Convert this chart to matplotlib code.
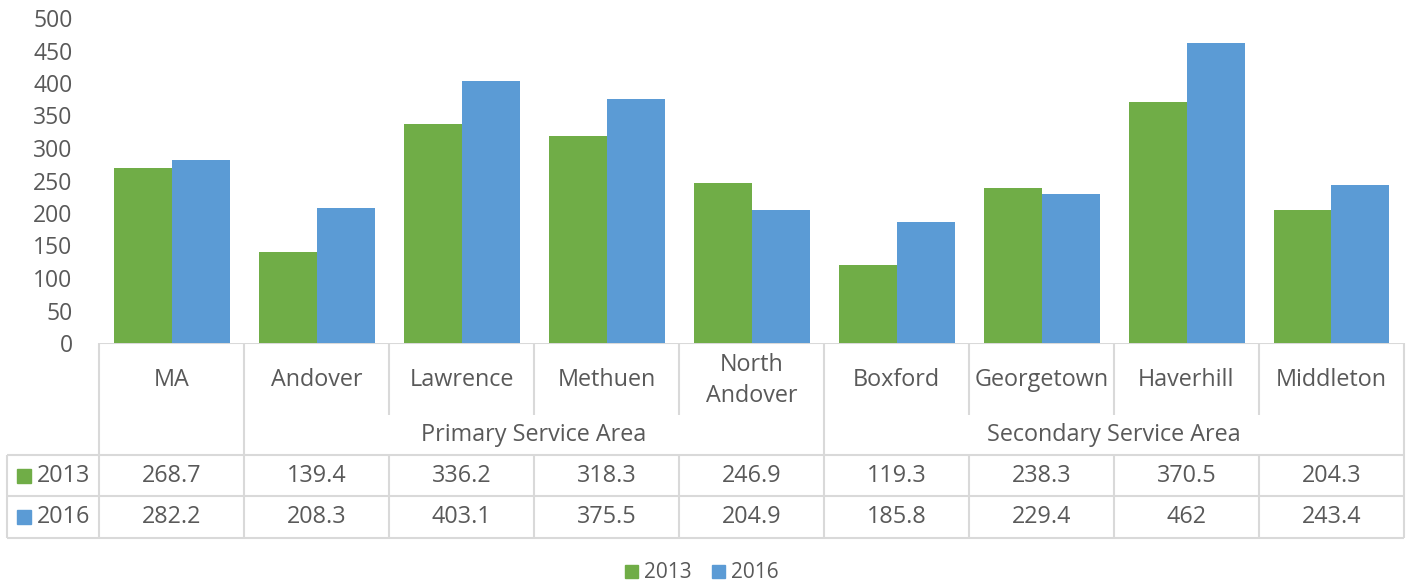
import matplotlib
matplotlib.use('Agg')
import matplotlib.pyplot as plt
from matplotlib.patches import Patch
import numpy as np

plt.rcParams['font.family'] = ['Open Sans', 'DejaVu Sans']

# data
categories = ['MA', 'Andover', 'Lawrence', 'Methuen', 'North\nAndover',
              'Boxford', 'Georgetown', 'Haverhill', 'Middleton']
group_labels = ['', 'Primary Service Area', 'Secondary Service Area']
group_first = [0, 1, 5]
group_last = [0, 4, 8]
series_names = ['2013', '2016']
values_2013 = [268.7, 139.4, 336.2, 318.3, 246.9, 119.3, 238.3, 370.5, 204.3]
values_2016 = [282.2, 208.3, 403.1, 375.5, 204.9, 185.8, 229.4, 462, 243.4]
y_ticks = [0, 50, 100, 150, 200, 250, 300, 350, 400, 450, 500]

colors = ['#70AD47', '#5B9BD5']
text_color = '#595959'
line_color = '#D9D9D9'

W, H = 1408, 584
fig = plt.figure(figsize=(W / 100, H / 100), dpi=100)

# chart area (pixel layout)
left, right, top, bottom = 99, 1404, 18, 343
ax = fig.add_axes([left / W, 1 - bottom / H, (right - left) / W, (bottom - top) / H])
x = np.arange(len(categories))
ax.bar(x - 0.2, values_2013, width=0.4, color=colors[0])
ax.bar(x + 0.2, values_2016, width=0.4, color=colors[1])
ax.set_xlim(-0.5, len(categories) - 0.5)
ax.set_ylim(0, 500)
ax.set_yticks(y_ticks)
ax.set_xticks([])
ax.tick_params(axis='y', length=0, pad=19, labelsize=16.5, labelcolor=text_color)
for s in ax.spines.values():
    s.set_visible(False)

# data table drawn in pixel coordinates
tab = fig.add_axes([0, 0, 1, 1], zorder=-1)
tab.set_xlim(0, W)
tab.set_ylim(H, 0)
tab.axis('off')

col_w = (right - left) / len(categories)
edges = [left + col_w * i for i in range(len(categories) + 1)]
centers = [left + col_w * (i + 0.5) for i in range(len(categories))]
row_cat = (343, 415)
row_grp = (415, 455)
row_a = (455, 496)
row_b = (496, 538)
table_left = 7
lw = 1.5

def hline(y, x0, x1):
    tab.plot([x0, x1], [y, y], color=line_color, lw=lw, solid_capstyle='butt')

def vline(xp, y0, y1):
    tab.plot([xp, xp], [y0, y1], color=line_color, lw=lw, solid_capstyle='butt')

hline(row_cat[0], left, right)
for e in edges:
    vline(e, row_cat[0], row_cat[1])
group_edges = [edges[0]] + [edges[g + 1] for g in group_last]
for e in group_edges:
    vline(e, row_grp[0], row_grp[1])
for y in (row_a[0], row_b[0], row_b[1]):
    hline(y, table_left, right)
vline(table_left, row_a[0], row_b[1])
for e in edges:
    vline(e, row_a[0], row_b[1])

fs = 16.8
for cx, c in zip(centers, categories):
    tab.text(cx, sum(row_cat) / 2 + 1.5, c, ha='center', va='center', fontsize=fs,
             color=text_color, linespacing=1.35)
for g, f, l in zip(group_labels, group_first, group_last):
    cx = (edges[f] + edges[l + 1]) / 2
    tab.text(cx, sum(row_grp) / 2, g, ha='center', va='center', fontsize=fs, color=text_color)

for row, vals, name, col in zip((row_a, row_b), (values_2013, values_2016), series_names, colors):
    yc = sum(row) / 2
    for cx, v in zip(centers, vals):
        tab.text(cx, yc, '{:g}'.format(v), ha='center', va='center', fontsize=fs, color=text_color)
    tab.add_patch(plt.Rectangle((17, yc - 7), 14, 14, color=col))
    tab.text(37, yc, name, ha='left', va='center', fontsize=fs, color=text_color)

handles = [Patch(color=c, label=n) for c, n in zip(colors, series_names)]
fig.legend(handles=handles, loc='center', bbox_to_anchor=(702 / W, 1 - 573 / H), ncol=2,
           frameon=False, fontsize=15, labelcolor=text_color, handlelength=0.6,
           handleheight=0.6, handletextpad=0.3, columnspacing=1.0)

fig.savefig('out.png', dpi=100)
